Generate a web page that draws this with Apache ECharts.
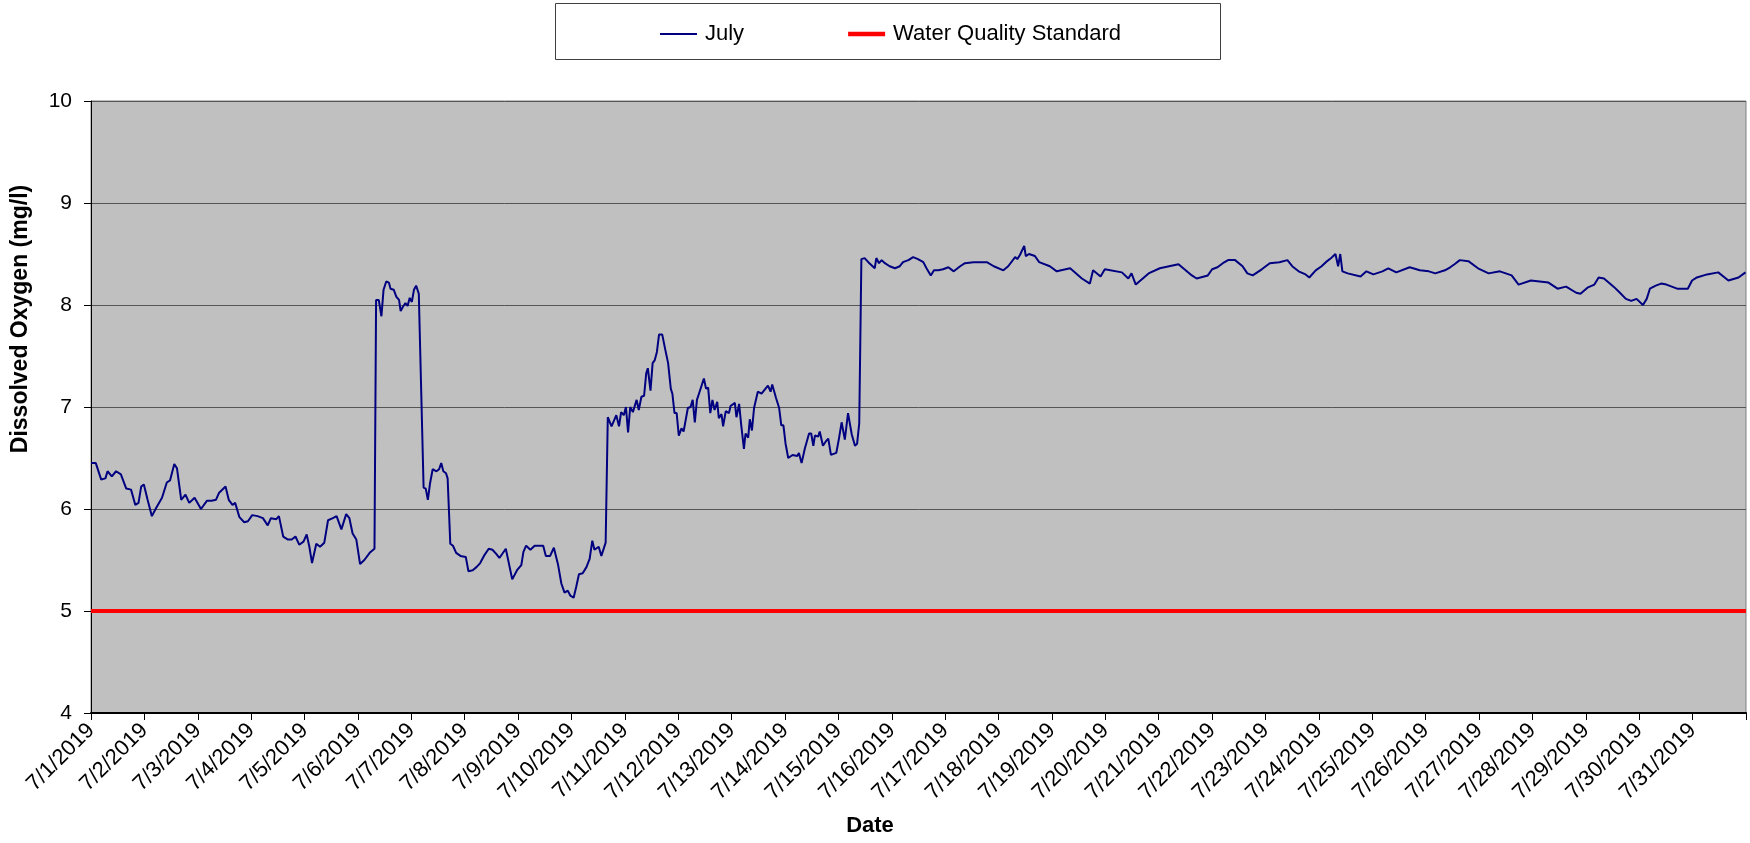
<!DOCTYPE html>
<html>
<head>
<meta charset="utf-8">
<script src="https://cdn.jsdelivr.net/npm/echarts@6/dist/echarts.min.js"></script>
<style>
html,body{margin:0;padding:0;background:#fff;}
#chart{width:1750px;height:843px;}
</style>
</head>
<body>
<div id="chart"></div>
<script>
// ---- Data ----
const dateLabels = ['7/1/2019','7/2/2019','7/3/2019','7/4/2019','7/5/2019','7/6/2019','7/7/2019','7/8/2019','7/9/2019','7/10/2019','7/11/2019','7/12/2019','7/13/2019','7/14/2019','7/15/2019','7/16/2019','7/17/2019','7/18/2019','7/19/2019','7/20/2019','7/21/2019','7/22/2019','7/23/2019','7/24/2019','7/25/2019','7/26/2019','7/27/2019','7/28/2019','7/29/2019','7/30/2019','7/31/2019'];

// time in days since 7/1/2019 00:00
const dayOffsets = [
0.00,0.09,0.19,0.27,0.31,0.39,0.47,0.56,0.66,0.75,0.83,0.89,0.94,0.99,
1.06,1.14,1.22,1.33,1.42,1.48,1.56,1.61,1.69,1.77,1.84,1.94,
2.06,2.17,2.26,2.34,2.40,2.52,2.58,2.65,2.70,2.78,2.87,2.94,
3.02,3.12,3.22,3.31,3.37,3.47,3.52,3.60,3.69,3.76,3.83,3.90,3.98,
4.04,4.09,4.14,4.22,4.29,4.37,4.44,4.53,4.60,4.69,4.78,4.84,4.90,4.97,
5.04,5.12,5.22,5.31,5.34,5.39,5.44,5.48,5.53,5.58,5.61,5.67,5.72,5.77,5.80,5.84,5.89,5.93,5.97,
6.01,6.05,6.09,6.14,6.23,6.27,6.31,6.35,6.40,6.47,6.52,6.56,6.60,6.65,6.68,6.73,6.78,6.84,6.92,
7.02,7.07,7.15,7.22,7.29,7.36,7.45,7.52,7.59,7.65,7.77,7.89,7.98,
8.06,8.10,8.15,8.23,8.31,8.47,8.52,8.60,8.67,8.75,8.81,8.87,8.93,8.98,
9.04,9.09,9.14,9.21,9.28,9.34,9.39,9.43,9.51,9.56,9.64,9.68,9.75,9.84,9.89,9.93,9.98,
10.02,10.06,10.10,10.15,10.22,10.26,10.31,10.36,10.40,10.43,10.48,10.52,10.56,10.60,10.64,10.70,10.75,10.81,10.86,10.89,10.93,10.97,
11.01,11.06,11.10,11.18,11.23,11.27,11.31,11.35,11.40,11.48,11.52,11.56,11.60,11.64,11.68,11.73,11.76,11.81,11.84,11.89,11.95,11.98,
12.06,12.09,12.14,12.18,12.23,12.26,12.31,12.34,12.38,12.42,12.49,12.56,12.62,12.68,12.73,12.76,12.83,12.89,12.93,12.97,
13.01,13.06,13.14,13.23,13.26,13.31,13.37,13.45,13.49,13.53,13.56,13.62,13.65,13.71,13.76,13.81,13.86,13.96,
14.01,14.06,14.12,14.18,14.25,14.31,14.35,14.39,14.43,14.49,14.56,14.62,14.68,14.71,14.76,14.81,14.87,14.96,
15.06,15.15,15.21,15.31,15.40,15.49,15.59,15.65,15.73,15.79,15.87,15.96,
16.06,16.16,16.28,16.37,16.53,16.78,16.91,
17.09,17.18,17.31,17.35,17.40,17.48,17.51,17.57,17.68,17.76,17.96,
18.09,18.34,18.56,18.71,18.77,18.91,18.99,
19.31,19.43,19.49,19.57,19.81,
20.02,20.37,20.62,20.71,20.92,
21.00,21.10,21.20,21.30,21.43,21.57,21.66,21.76,21.93,
22.08,22.26,22.41,22.50,22.62,22.75,22.82,22.94,
23.05,23.13,23.23,23.31,23.36,23.40,23.44,23.54,23.78,23.89,
24.02,24.19,24.30,24.45,24.70,24.89,
25.06,25.18,25.36,25.46,25.54,25.64,25.80,25.98,
26.18,26.39,26.61,26.74,26.97,
27.30,27.47,27.63,27.82,27.90,
28.03,28.16,28.24,28.34,28.52,28.62,28.75,28.85,28.95,
29.07,29.14,29.20,29.31,29.41,29.51,29.71,29.91,29.99,
30.08,30.27,30.48,30.60,30.67,30.86,30.99
];

const doValues = [
6.45,6.45,6.29,6.30,6.37,6.32,6.37,6.34,6.20,6.19,6.04,6.06,6.22,6.24,
6.09,5.93,6.01,6.11,6.26,6.28,6.44,6.40,6.09,6.14,6.06,6.11,
6.00,6.08,6.08,6.09,6.16,6.22,6.09,6.04,6.06,5.92,5.87,5.88,
5.94,5.93,5.91,5.84,5.91,5.90,5.93,5.73,5.70,5.70,5.73,5.65,5.68,
5.75,5.63,5.47,5.66,5.63,5.67,5.89,5.91,5.93,5.80,5.95,5.91,5.76,5.70,
5.46,5.50,5.57,5.61,8.05,8.05,7.89,8.15,8.23,8.22,8.16,8.15,8.08,8.05,7.94,7.98,8.02,7.99,8.07,
8.03,8.15,8.19,8.11,6.21,6.20,6.09,6.25,6.39,6.37,6.39,6.45,6.37,6.35,6.30,5.66,5.64,5.57,5.54,
5.53,5.39,5.40,5.43,5.47,5.54,5.61,5.60,5.56,5.52,5.61,5.31,5.40,
5.45,5.58,5.64,5.60,5.64,5.64,5.54,5.54,5.62,5.45,5.27,5.18,5.20,5.15,
5.13,5.24,5.36,5.37,5.43,5.51,5.69,5.60,5.63,5.54,5.67,6.90,6.81,6.92,6.81,6.95,6.92,
7.00,6.75,7.00,6.95,7.07,6.97,7.10,7.11,7.33,7.38,7.16,7.43,7.46,7.54,7.71,7.71,7.58,7.43,7.18,7.13,6.94,6.94,
6.72,6.79,6.76,6.99,7.00,7.07,6.85,7.07,7.15,7.28,7.18,7.19,6.94,7.07,6.97,7.05,6.89,6.93,6.81,6.96,6.94,7.01,
7.04,6.90,7.03,6.82,6.59,6.74,6.70,6.88,6.77,6.99,7.15,7.13,7.17,7.21,7.15,7.22,7.09,6.99,6.82,6.82,
6.64,6.50,6.53,6.52,6.55,6.45,6.59,6.74,6.74,6.62,6.72,6.71,6.76,6.62,6.66,6.69,6.53,6.55,
6.69,6.85,6.68,6.94,6.73,6.62,6.64,6.84,8.45,8.46,8.42,8.39,8.36,8.46,8.41,8.44,8.41,8.38,
8.36,8.38,8.42,8.44,8.47,8.45,8.42,8.36,8.29,8.34,8.34,8.35,
8.37,8.33,8.38,8.41,8.42,8.42,8.38,
8.34,8.38,8.47,8.45,8.49,8.58,8.48,8.50,8.48,8.42,8.38,
8.33,8.36,8.26,8.21,8.34,8.28,8.35,
8.32,8.26,8.31,8.20,8.31,
8.36,8.40,8.29,8.26,8.29,
8.35,8.37,8.41,8.44,8.44,8.38,8.31,8.29,8.35,
8.41,8.42,8.44,8.38,8.33,8.30,8.27,8.34,
8.38,8.42,8.46,8.50,8.38,8.50,8.33,8.31,8.28,8.33,
8.30,8.33,8.36,8.32,8.37,8.34,
8.33,8.31,8.34,8.37,8.40,8.44,8.43,8.36,
8.31,8.33,8.29,8.20,8.24,
8.22,8.16,8.18,8.12,8.11,
8.17,8.20,8.27,8.26,8.18,8.13,8.06,8.04,8.06,
8.00,8.06,8.16,8.19,8.21,8.20,8.16,8.16,8.24,
8.27,8.30,8.32,8.27,8.24,8.27,8.32
];

const standardDays = [0, 31];
const standardValues = [5, 5];
const yTicks = [4, 5, 6, 7, 8, 9, 10];

// ---- Chart ----
const FONT = "'Liberation Sans', Arial, sans-serif";
const chart = echarts.init(document.getElementById('chart'), null, {renderer: 'canvas'});

const julyData = dayOffsets.map((d, i) => [d, doValues[i]]);
const stdData = standardDays.map((d, i) => [d, standardValues[i]]);

chart.setOption({
  animation: false,
  backgroundColor: '#ffffff',
  textStyle: {fontFamily: FONT},
  graphic: [
    {type: 'rect', z: 0, shape: {x: 555.5, y: 3.5, width: 665, height: 56},
     style: {fill: '#ffffff', stroke: '#404040', lineWidth: 1}},
    {type: 'text', x: 21, y: 319, rotation: Math.PI / 2,
     style: {text: 'Dissolved Oxygen (mg/l)', font: "bold 23px 'Liberation Sans', Arial, sans-serif",
             fill: '#000', textAlign: 'center', textVerticalAlign: 'middle'}},
    {type: 'text', x: 870, y: 826,
     style: {text: 'Date', font: "bold 22px 'Liberation Sans', Arial, sans-serif",
             fill: '#000', textAlign: 'center', textVerticalAlign: 'middle'}}
  ],
  legend: {
    left: 655, top: 18,
    itemWidth: 37, itemHeight: 14, itemGap: 104,
    textStyle: {fontSize: 22, color: '#000', fontFamily: FONT, padding: [0, 0, 0, 3]},
    data: [
      {name: 'July', icon: 'path://M0,0H36V2H0Z'},
      {name: 'Water Quality Standard', icon: 'path://M0,0H36V4.5H0Z'}
    ]
  },
  grid: {
    left: 91, right: 4, top: 101, bottom: 130,
    show: true, backgroundColor: '#C0C0C0', borderColor: '#808080', borderWidth: 1
  },
  xAxis: {
    type: 'value', min: 0, max: 31, interval: 1,
    axisLine: {show: true, onZero: false, lineStyle: {color: '#000', width: 2}},
    axisTick: {show: true, length: 7, lineStyle: {color: '#000'}},
    splitLine: {show: false},
    axisLabel: {
      rotate: 45, margin: 14, fontSize: 22, color: '#000', fontFamily: FONT,
      formatter: v => (v >= 0 && v < dateLabels.length) ? dateLabels[v] : ''
    }
  },
  yAxis: {
    type: 'value', min: yTicks[0], max: yTicks[yTicks.length - 1], interval: 1,
    axisLine: {show: true, lineStyle: {color: '#000', width: 1}},
    axisTick: {show: true, length: 7, lineStyle: {color: '#000'}},
    splitLine: {show: true, lineStyle: {color: '#555555', width: 1}},
    axisLabel: {margin: 19, fontSize: 21, color: '#000', fontFamily: FONT}
  },
  series: [
    {
      name: 'July', type: 'line', data: julyData,
      symbol: 'none', showSymbol: false,
      lineStyle: {color: '#000080', width: 2},
      itemStyle: {color: '#000080'},
      z: 3
    },
    {
      name: 'Water Quality Standard', type: 'line', data: stdData,
      symbol: 'none', showSymbol: false,
      lineStyle: {color: '#FF0000', width: 4},
      itemStyle: {color: '#FF0000'},
      z: 4
    }
  ]
});
</script>
</body>
</html>
